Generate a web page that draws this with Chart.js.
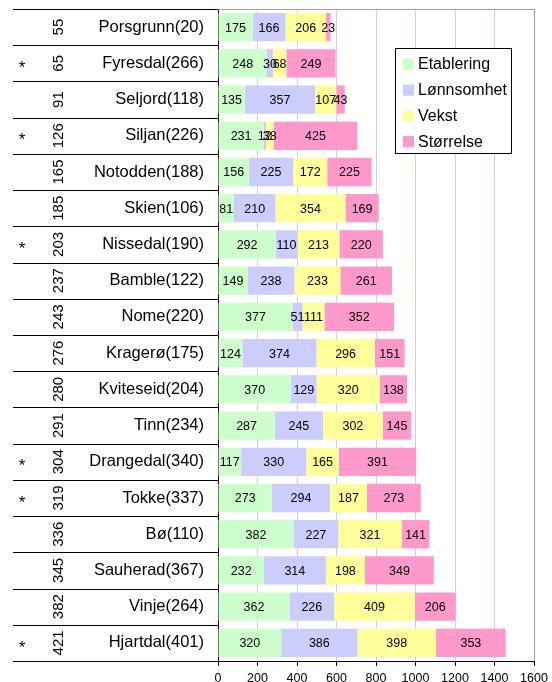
<!DOCTYPE html>
<html>
<head>
<meta charset="utf-8">
<script src="https://cdn.jsdelivr.net/npm/chart.js@4"></script>
<style>
  html, body { margin: 0; padding: 0; background: #fff; }
</style>
</head>
<body>
<canvas id="chart" width="552" height="682"></canvas>
<script>
const kommuner = ['Porsgrunn(20)', 'Fyresdal(266)', 'Seljord(118)', 'Siljan(226)', 'Notodden(188)', 'Skien(106)',
  'Nissedal(190)', 'Bamble(122)', 'Nome(220)', 'Kragerø(175)', 'Kviteseid(204)', 'Tinn(234)',
  'Drangedal(340)', 'Tokke(337)', 'Bø(110)', 'Sauherad(367)', 'Vinje(264)', 'Hjartdal(401)'];
const rangering = [55, 65, 91, 126, 165, 185, 203, 237, 243, 276, 280, 291, 304, 319, 336, 345, 382, 421];
const merket = ['', '*', '', '*', '', '', '*', '', '', '', '', '', '*', '*', '', '', '', '*'];

const etablering = [175, 248, 135, 231, 156, 81, 292, 149, 377, 124, 370, 287, 117, 273, 382, 232, 362, 320];
const lonnsomhet = [166, 30, 357, 12, 225, 210, 110, 238, 51, 374, 129, 245, 330, 294, 227, 314, 226, 386];
const vekst = [206, 68, 107, 38, 172, 354, 213, 233, 111, 296, 320, 302, 165, 187, 321, 198, 409, 398];
const storrelse = [23, 249, 43, 425, 225, 169, 220, 261, 352, 151, 138, 145, 391, 273, 141, 349, 206, 353];

const serier = ['Etablering', 'Lønnsomhet', 'Vekst', 'Størrelse'];
const farger = ['#ccffcc', '#ccccff', '#ffff99', '#ff99cc'];
const xTicks = [0, 200, 400, 600, 800, 1000, 1200, 1400, 1600];

const FONT = '"Liberation Sans", Arial, sans-serif';

// left side: separators, stars and rotated rank numbers
const leftTable = {
  id: 'leftTable',
  afterDraw(chart) {
    const { ctx, chartArea } = chart;
    const y = chart.scales.y;
    ctx.save();
    ctx.strokeStyle = '#000';
    ctx.lineWidth = 1;
    for (let i = 0; i <= kommuner.length; i++) {
      const py = Math.round(y.getPixelForValue(i - 0.5)) + 0.5;
      ctx.beginPath();
      ctx.moveTo(13, py);
      ctx.lineTo(chartArea.left, py);
      ctx.stroke();
    }
    ctx.fillStyle = '#000';
    kommuner.forEach((_, i) => {
      const yc = y.getPixelForValue(i);
      if (merket[i]) {
        ctx.font = `17px ${FONT}`;
        ctx.textAlign = 'center';
        ctx.textBaseline = 'middle';
        ctx.fillText(merket[i], 22, yc + 5);
      }
      ctx.save();
      ctx.translate(59, yc);
      ctx.rotate(-Math.PI / 2);
      ctx.font = `15px ${FONT}`;
      ctx.textAlign = 'center';
      ctx.textBaseline = 'middle';
      ctx.fillText(String(rangering[i]), 0, 0);
      ctx.restore();
    });
    // grey frame top + right
    ctx.strokeStyle = '#a0a0a0';
    ctx.beginPath();
    ctx.moveTo(chartArea.left, Math.round(chartArea.top) + 0.5);
    ctx.lineTo(Math.round(chartArea.right) + 0.5, Math.round(chartArea.top) + 0.5);
    ctx.lineTo(Math.round(chartArea.right) + 0.5, chartArea.bottom);
    ctx.stroke();
    ctx.restore();
  }
};

// values in the middle of each bar piece
const barValues = {
  id: 'barValues',
  afterDatasetsDraw(chart) {
    const { ctx } = chart;
    ctx.save();
    ctx.font = `12.5px ${FONT}`;
    ctx.fillStyle = '#000';
    ctx.textAlign = 'center';
    ctx.textBaseline = 'middle';
    chart.data.datasets.forEach((ds, d) => {
      chart.getDatasetMeta(d).data.forEach((el, i) => {
        ctx.fillText(String(ds.data[i]), (el.x + el.base) / 2, el.y + 1);
      });
    });
    ctx.restore();
  }
};

// legend box inside the plot
const boxLegend = {
  id: 'boxLegend',
  afterDraw(chart) {
    const { ctx } = chart;
    const x0 = 395, y0 = 48, w = 116, h = 105;
    ctx.save();
    ctx.fillStyle = '#fff';
    ctx.fillRect(x0, y0, w, h);
    ctx.strokeStyle = '#000';
    ctx.lineWidth = 1;
    ctx.strokeRect(x0 + 0.5, y0 + 0.5, w, h);
    ctx.font = `16px ${FONT}`;
    ctx.textBaseline = 'middle';
    ctx.textAlign = 'left';
    chart.data.datasets.forEach((ds, d) => {
      const yc = 64 + d * 25.7;
      ctx.fillStyle = ds.backgroundColor;
      ctx.fillRect(403, yc - 5, 11, 11);
      ctx.fillStyle = '#000';
      ctx.fillText(ds.label, 418, yc + 1);
    });
    ctx.restore();
  }
};

const serieData = [etablering, lonnsomhet, vekst, storrelse];

new Chart(document.getElementById('chart'), {
  type: 'bar',
  data: {
    labels: kommuner,
    datasets: serier.map((navn, k) => ({
      label: navn,
      data: serieData[k],
      backgroundColor: farger[k],
      borderWidth: 0,
      barPercentage: 0.78,
      categoryPercentage: 1
    }))
  },
  options: {
    indexAxis: 'y',
    responsive: false,
    animation: false,
    layout: { padding: { top: 9, right: 18, left: 0, bottom: 0 } },
    plugins: { legend: { display: false }, tooltip: { enabled: false } },
    scales: {
      x: {
        stacked: true,
        min: 0,
        max: 1600,
        afterBuildTicks: s => { s.ticks = xTicks.map(v => ({ value: v })); },
        afterFit: s => { s.height = 21; s.paddingLeft = 0; s.paddingRight = 0; },
        grid: {
          color: c => c.tick.value === 0 ? 'rgba(0,0,0,0)' : (c.tick.value === 1600 ? '#a0a0a0' : '#ccccff'),
          tickColor: '#000',
          tickLength: 5
        },
        border: { color: '#000' },
        ticks: {
          color: '#000', font: { family: FONT, size: 12.5 }, padding: 5, maxRotation: 0,
          callback: v => String(v)
        }
      },
      y: {
        stacked: true,
        afterFit: s => { s.width = 218; s.paddingTop = 0; s.paddingBottom = 0; },
        grid: { display: false, drawTicks: false },
        border: { color: '#000' },
        ticks: { color: '#000', font: { family: FONT, size: 16.5 }, padding: 14, autoSkip: false }
      }
    }
  },
  plugins: [leftTable, barValues, boxLegend]
});
</script>
</body>
</html>
